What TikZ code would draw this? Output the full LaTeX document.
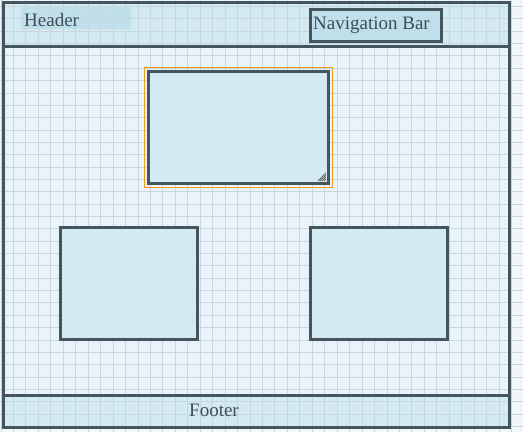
\documentclass[tikz,border=0pt]{standalone}
\usepackage{fontspec}
\setmainfont{Liberation Serif}
\definecolor{frameline}{HTML}{45555E}
\definecolor{bandfill}{HTML}{D3EAF2}
\definecolor{mainfill}{HTML}{E8F4F9}
\definecolor{pagefill}{HTML}{EFF7FA}
\definecolor{gridline}{HTML}{C9D7DC}
\definecolor{labelfill}{HTML}{BFDFEB}
\definecolor{selectline}{HTML}{F29A1F}
\definecolor{textcol}{HTML}{3C4E5A}
\tikzset{
  panel/.style={draw=frameline, line width=3pt, fill=bandfill, inner sep=0pt, anchor=north west},
  band/.style={fill=bandfill, inner sep=0pt, anchor=north west},
  labeltext/.style={text=textcol, font=\fontsize{19}{21}\selectfont, inner sep=0pt},
  gridrule/.style={draw=gridline, line width=0.9pt},
}
\begin{document}
\begin{tikzpicture}[x=1pt, y=-1pt]
        \useasboundingbox (0,0) rectangle (523,432);
        \fill[pagefill] (0,0) rectangle (523,432);

        % page areas
        \node[band, fill=mainfill, minimum width=506, minimum height=425] (page) at (3,2) {};
        \node[band, minimum width=506, minimum height=44] (header) at (3,2) {};
        \node[band, minimum width=506, minimum height=31] (footer) at (3,395) {};
        \node[band, fill=labelfill, minimum width=110, minimum height=22] (headerlabel) at (21,7) {};

        % grid
        \foreach \i in {0,...,42}
            \draw[gridrule] ({1+12.45*\i},0) -- ({1+12.45*\i},432);
        \foreach \j in {0,...,35}
            \draw[gridrule] (0,{6.5+12.35*\j}) -- (523,{6.5+12.35*\j});

        % frame
        \draw[frameline, line width=3pt] (page.north west) rectangle (page.south east);
        \draw[frameline, line width=3pt] (header.south west) -- (header.south east);
        \draw[frameline, line width=3pt] (footer.north west) -- (footer.north east);

        % navigation bar
        \node[panel, fill=labelfill, minimum width=131, minimum height=32] (navbar) at (309,8) {};

        % boxes
        \node[draw=selectline, line width=1.2pt, inner sep=0pt, anchor=north west,
              minimum width=188, minimum height=120] (selection) at (144,67) {};
        \node[panel, minimum width=180, minimum height=112] (topbox) at (147,70) {};
        \node[panel, minimum width=137, minimum height=112] (leftbox) at (59,226) {};
        \node[panel, minimum width=137, minimum height=112] (rightbox) at (309,226) {};

        % resize grip
        \foreach \k in {0,2,4,6,8}
            \draw[gray!80!black, line width=0.9pt] ([xshift=-4pt,yshift=4pt+\k pt]topbox.south east) -- ([xshift=-4pt-\k pt,yshift=4pt]topbox.south east);

        % labels
        \node[labeltext, anchor=west] (headertext) at ([yshift=-1.5pt]headerlabel.west) {\hspace{3pt}Header};
        \node[labeltext, anchor=west] (navtext) at ([xshift=4pt]navbar.west) {Navigation Bar};
        \node[labeltext] (footertext) at (214,410) {Footer};
\end{tikzpicture}
\end{document}
